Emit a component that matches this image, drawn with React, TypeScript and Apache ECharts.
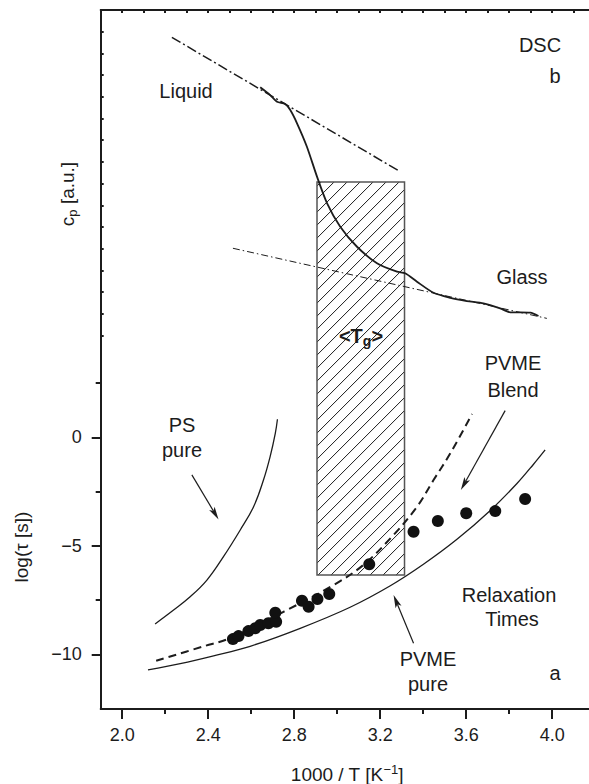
import { useEffect, useRef } from 'react';
import * as echarts from 'echarts';

const FONT = '"Liberation Sans", Arial, Helvetica, sans-serif';
const INK = '#1c1c1c';

// Axis extents (x: 1000/T, left: log tau, hidden second scale: cp in a.u.)
const X_MIN = 1.9;
const X_MAX = 4.171;
const TAU_MIN = -12.52;
const TAU_MAX = 19.69;
const CP_MIN = -17.21;
const CP_MAX = 15;

const xMajorTicks = [2.0, 2.4, 2.8, 3.2, 3.6, 4.0];
const xMinorTicks = [2.2, 2.6, 3.0, 3.4, 3.8];
const xTopTicks = [2.0, 2.1, 2.2, 2.3, 2.4, 2.5, 2.6, 2.7, 2.8, 2.9, 3.0, 3.1, 3.2, 3.3, 3.4, 3.5, 3.6, 3.7, 3.8, 3.9, 4.0, 4.1];
const tauMajorTicks = [-10, -5, 0];
const tauMinorTicks = [-7.5, -2.5, 2.5];
const cpTicks = [0, 1, 2, 3, 4, 5, 6, 7, 8, 9, 10, 11, 12, 13, 14];

// DSC trace (upper panel, cp in a.u.)
const dscX = [2.642, 2.688, 2.72, 2.758, 2.781, 2.813, 2.859, 2.906, 2.953, 3.014, 3.092, 3.185, 3.278, 3.316, 3.371, 3.448, 3.526, 3.603, 3.68, 3.758, 3.805, 3.851, 3.898, 3.936];
const dscCp = [11.44, 11.08, 10.77, 10.67, 10.4, 9.78, 8.7, 7.32, 6.09, 5.01, 4.09, 3.33, 2.94, 2.87, 2.48, 1.97, 1.74, 1.59, 1.48, 1.25, 1.07, 1.07, 1.05, 0.9];

// Liquid and glass tangents
const liquidX = [2.231, 3.293];
const liquidCp = [13.74, 7.55];
const glassX = [2.515, 3.975];
const glassCp = [4.02, 0.79];

// Glass transition range <Tg>: [x from, x to, log tau top, log tau bottom]
const tgRange = [2.906, 3.313, 11.76, -6.35];

// Relaxation times
const psPureX = [2.153, 2.239, 2.316, 2.394, 2.471, 2.549, 2.611, 2.657, 2.688, 2.712, 2.722];
const psPureTau = [-8.6, -7.96, -7.35, -6.58, -5.5, -4.27, -3.2, -1.97, -0.89, 0.18, 0.83];

const blendX = [2.158, 2.386, 2.487, 2.75, 2.983, 3.122, 3.262, 3.371, 3.448, 3.526, 3.627];
const blendTau = [-10.3, -9.61, -9.31, -8.04, -6.81, -5.88, -4.5, -3.2, -1.97, -0.74, 1.07];

const pvmePureX = [2.12, 2.27, 2.425, 2.595, 2.828, 3.06, 3.247, 3.401, 3.557, 3.712, 3.836, 3.913, 3.967];
const pvmePureTau = [-10.72, -10.43, -10.07, -9.63, -8.8, -7.83, -6.84, -5.85, -4.7, -3.37, -2.13, -1.24, -0.58];

const dotsX = [2.515, 2.541, 2.587, 2.619, 2.642, 2.68, 2.716, 2.712, 2.836, 2.867, 2.908, 2.963, 3.149, 3.355, 3.468, 3.6, 3.735, 3.874];
const dotsTau = [-9.3, -9.16, -8.93, -8.8, -8.65, -8.57, -8.5, -8.08, -7.53, -7.81, -7.45, -7.22, -5.85, -4.35, -3.86, -3.5, -3.4, -2.84];

// Pointer arrows: [x start, tau start, x tip, tau tip]
const arrowPs = [2.324, -1.73, 2.448, -3.79];
const arrowBlend = [3.781, 1.23, 3.575, -2.43];
const arrowPvme = [3.355, -9.49, 3.262, -7.27];

const zip = (xs: number[], ys: number[]) => xs.map((x, i) => [x, ys[i]]);
const minus = (v: number) => (v < 0 ? '\u2212' + Math.abs(v) : String(v));

const txt = (x: number, y: number, text: string, extra: any = {}) => ({
  type: 'text',
  x,
  y,
  z: 100,
  style: {
    text,
    fill: INK,
    font: `20px ${FONT}`,
    align: 'center',
    verticalAlign: 'middle',
    ...extra,
  },
});

export default function App() {
  const ref = useRef<HTMLDivElement>(null);

  useEffect(() => {
    document.body.style.margin = '0';
    const chart = echarts.init(ref.current!, null, { renderer: 'svg' });

    const baseX = {
      type: 'value',
      min: X_MIN,
      max: X_MAX,
      splitLine: { show: false },
    };
    const baseY = { type: 'value', position: 'left', splitLine: { show: false } };
    const tickStyle = { color: INK, width: 2 };

    const option: any = {
      animation: false,
      backgroundColor: '#ffffff',
      grid: { left: 100.7, right: 0, top: 10, bottom: 75, containLabel: false },
      xAxis: [
        {
          ...baseX,
          position: 'bottom',
          axisLine: { show: true, onZero: false, lineStyle: { color: INK, width: 2 } },
          axisTick: { show: true, customValues: xMajorTicks, length: 10, lineStyle: tickStyle },
          axisLabel: {
            customValues: xMajorTicks,
            formatter: (v: number) => v.toFixed(1),
            fontSize: 18,
            fontFamily: FONT,
            color: INK,
            margin: 17,
          },
        },
        {
          ...baseX,
          position: 'bottom',
          axisLine: { show: false, onZero: false },
          axisTick: { show: true, customValues: xMinorTicks, length: 5, lineStyle: tickStyle },
          axisLabel: { show: false },
        },
        {
          ...baseX,
          position: 'top',
          axisLine: { show: true, onZero: false, lineStyle: { color: INK, width: 2 } },
          axisTick: { show: true, inside: true, customValues: xTopTicks, length: 3, lineStyle: tickStyle },
          axisLabel: { show: false },
        },
      ],
      yAxis: [
        {
          ...baseY,
          min: TAU_MIN,
          max: TAU_MAX,
          axisLine: { show: true, onZero: false, lineStyle: { color: INK, width: 2 } },
          axisTick: { show: true, customValues: tauMajorTicks, length: 9, lineStyle: tickStyle },
          axisLabel: {
            customValues: tauMajorTicks,
            formatter: minus,
            fontSize: 18,
            fontFamily: FONT,
            color: INK,
            margin: 19,
          },
        },
        {
          ...baseY,
          min: TAU_MIN,
          max: TAU_MAX,
          axisLine: { show: false, onZero: false },
          axisTick: { show: true, customValues: tauMinorTicks, length: 5, lineStyle: tickStyle },
          axisLabel: { show: false },
        },
        {
          ...baseY,
          min: CP_MIN,
          max: CP_MAX,
          axisLine: { show: false, onZero: false },
          axisTick: { show: true, inside: true, customValues: cpTicks, length: 3, lineStyle: tickStyle },
          axisLabel: { show: false },
        },
      ],
      series: [
        {
          // hatched <Tg> band
          type: 'custom',
          xAxisIndex: 0,
          yAxisIndex: 0,
          z: 1,
          encode: { x: [0, 1], y: [2, 3] },
          data: [tgRange],
          renderItem: (_p: any, api: any) => {
            const a = api.coord([api.value(0), api.value(2)]);
            const b = api.coord([api.value(1), api.value(3)]);
            const x0 = a[0], y0 = a[1], x1 = b[0], y1 = b[1];
            const step = 13;
            const children: any[] = [];
            for (let c = x0 + y0 + 4; c < x1 + y1; c += step) {
              const xa = Math.max(x0, c - y1);
              const xb = Math.min(x1, c - y0);
              if (xb > xa) {
                children.push({
                  type: 'line',
                  shape: { x1: xa, y1: c - xa, x2: xb, y2: c - xb },
                  style: { stroke: INK, lineWidth: 1 },
                });
              }
            }
            children.push({
              type: 'rect',
              shape: { x: x0, y: y0, width: x1 - x0, height: y1 - y0 },
              style: { fill: 'none', stroke: '#555', lineWidth: 1.5 },
            });
            return { type: 'group', children };
          },
        },
        {
          type: 'line',
          name: 'DSC',
          xAxisIndex: 0,
          yAxisIndex: 2,
          showSymbol: false,
          smooth: 0.25,
          data: zip(dscX, dscCp),
          lineStyle: { color: INK, width: 1.8 },
          z: 5,
        },
        {
          type: 'line',
          name: 'Liquid',
          xAxisIndex: 0,
          yAxisIndex: 2,
          showSymbol: false,
          data: zip(liquidX, liquidCp),
          lineStyle: { color: INK, width: 1.5, type: [10, 3, 2, 3] },
          z: 4,
        },
        {
          type: 'line',
          name: 'Glass',
          xAxisIndex: 0,
          yAxisIndex: 2,
          showSymbol: false,
          data: zip(glassX, glassCp),
          lineStyle: { color: INK, width: 1, type: [7, 3, 1.5, 3] },
          z: 4,
        },
        {
          type: 'line',
          name: 'PS pure',
          xAxisIndex: 0,
          yAxisIndex: 0,
          showSymbol: false,
          smooth: 0.4,
          data: zip(psPureX, psPureTau),
          lineStyle: { color: INK, width: 1.3 },
        },
        {
          type: 'line',
          name: 'PVME Blend',
          xAxisIndex: 0,
          yAxisIndex: 0,
          showSymbol: false,
          smooth: 0.35,
          data: zip(blendX, blendTau),
          lineStyle: { color: INK, width: 2, type: [8, 5] },
        },
        {
          type: 'line',
          name: 'PVME pure',
          xAxisIndex: 0,
          yAxisIndex: 0,
          showSymbol: false,
          smooth: 0.35,
          data: zip(pvmePureX, pvmePureTau),
          lineStyle: { color: INK, width: 1.3 },
        },
        {
          type: 'scatter',
          name: 'Blend data',
          xAxisIndex: 0,
          yAxisIndex: 0,
          symbol: 'circle',
          symbolSize: 12,
          data: zip(dotsX, dotsTau),
          itemStyle: { color: '#111', opacity: 1 },
          z: 6,
        },
        {
          type: 'custom',
          name: 'arrows',
          xAxisIndex: 0,
          yAxisIndex: 0,
          encode: { x: [0, 2], y: [1, 3] },
          data: [arrowPs, arrowBlend, arrowPvme],
          z: 7,
          renderItem: (_p: any, api: any) => {
            const a = api.coord([api.value(0), api.value(1)]);
            const b = api.coord([api.value(2), api.value(3)]);
            const dx = b[0] - a[0];
            const dy = b[1] - a[1];
            const len = Math.hypot(dx, dy);
            const ux = dx / len;
            const uy = dy / len;
            const headL = 13;
            const headW = 3.2;
            const bx = b[0] - ux * headL;
            const by = b[1] - uy * headL;
            return {
              type: 'group',
              children: [
                {
                  type: 'line',
                  shape: { x1: a[0], y1: a[1], x2: bx + ux * 3, y2: by + uy * 3 },
                  style: { stroke: INK, lineWidth: 1.2 },
                },
                {
                  type: 'polygon',
                  shape: {
                    points: [
                      [b[0], b[1]],
                      [bx - uy * headW, by + ux * headW],
                      [bx + ux * 3, by + uy * 3],
                      [bx + uy * headW, by - ux * headW],
                    ],
                  },
                  style: { fill: INK },
                },
              ],
            };
          },
        },
      ],
      graphic: [
        txt(540, 45, 'DSC'),
        txt(555, 76, 'b'),
        txt(186, 91, 'Liquid'),
        txt(522, 277, 'Glass'),
        txt(513, 363, 'PVME'),
        txt(513, 390, 'Blend'),
        txt(182, 425, 'PS'),
        txt(182, 450, 'pure'),
        txt(509, 595, 'Relaxation'),
        txt(512, 619, 'Times'),
        txt(428, 659, 'PVME'),
        txt(428, 684, 'pure'),
        txt(555, 673, 'a'),
        {
          type: 'text',
          x: 361,
          y: 336,
          z: 100,
          style: {
            text: '{a|<T}{s|g}{a|>}',
            align: 'center',
            verticalAlign: 'middle',
            rich: {
              a: { fontSize: 20, fontWeight: 'bold', fontFamily: FONT, fill: INK, color: INK, lineHeight: 24 },
              s: { fontSize: 14, fontWeight: 'bold', fontFamily: FONT, fill: INK, color: INK, lineHeight: 14, verticalAlign: 'bottom' },
            },
          },
        },
        {
          type: 'text',
          x: 21,
          y: 547,
          rotation: Math.PI / 2,
          z: 100,
          style: {
            text: 'log(\u03c4 [s])',
            fill: INK,
            font: `19px ${FONT}`,
            align: 'center',
            verticalAlign: 'middle',
          },
        },
        {
          type: 'text',
          x: 67,
          y: 194,
          rotation: Math.PI / 2,
          z: 100,
          style: {
            text: '{a|c}{s|p}{a| [a.u.]}',
            align: 'center',
            verticalAlign: 'middle',
            rich: {
              a: { fontSize: 19, fontFamily: FONT, fill: INK, color: INK, lineHeight: 24 },
              s: { fontSize: 13, fontFamily: FONT, fill: INK, color: INK, lineHeight: 13, verticalAlign: 'bottom' },
            },
          },
        },
        {
          type: 'text',
          x: 347,
          y: 774,
          z: 100,
          style: {
            text: '{a|1000 / T [K}{s|\u22121}{a|]}',
            align: 'center',
            verticalAlign: 'middle',
            rich: {
              a: { fontSize: 19, fontFamily: FONT, fill: INK, color: INK, lineHeight: 22 },
              s: { fontSize: 13, fontFamily: FONT, fill: INK, color: INK, lineHeight: 13, verticalAlign: 'top' },
            },
          },
        },
      ],
    };

    chart.setOption(option);
    return () => chart.dispose();
  }, []);

  return <div ref={ref} style={{ width: 589, height: 784 }} />;
}
